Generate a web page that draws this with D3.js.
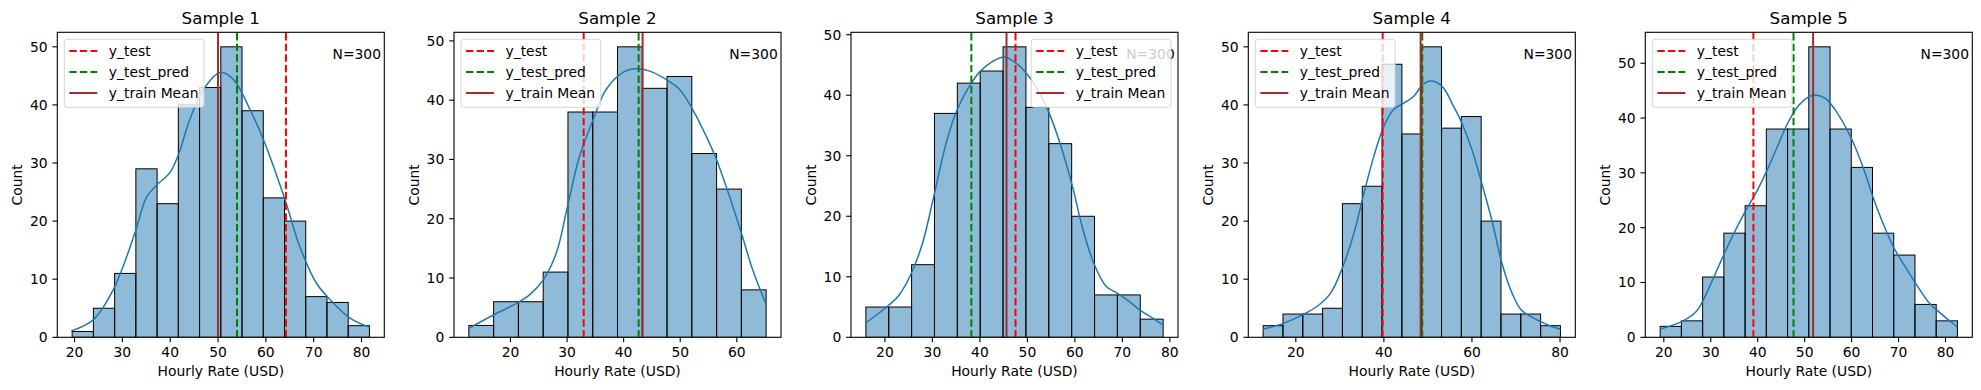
<!DOCTYPE html>
<html>
<head>
<meta charset="utf-8">
<script src="https://cdn.jsdelivr.net/npm/d3@7"></script>
<style>
  html, body { margin: 0; padding: 0; background: #fff; }
  svg { display: block; font-family: "DejaVu Sans", sans-serif; }
</style>
</head>
<body>
<svg id="chart" width="1981" height="390"></svg>
<script>
// ---------------- DATA ----------------
const titles = ["Sample 1", "Sample 2", "Sample 3", "Sample 4", "Sample 5"];
const nLabels = ["N=300", "N=300", "N=300", "N=300", "N=300"];
const legendLabels = ["y_test", "y_test_pred", "y_train Mean"];
const xLabel = "Hourly Rate (USD)";
const yLabel = "Count";

const binStarts = [19.5, 12.65, 15.99, 12.59, 19.22];
const binEnds   = [81.66, 65.18, 78.58, 80.09, 82.54];

const counts1 = [1, 5, 11, 29, 23, 40, 43, 50, 39, 24, 20, 7, 6, 2];
const counts2 = [2, 6, 6, 11, 38, 38, 49, 42, 44, 31, 25, 8];
const counts3 = [5, 5, 12, 37, 42, 44, 48, 38, 32, 20, 7, 7, 3];
const counts4 = [2, 4, 4, 5, 23, 26, 47, 35, 50, 36, 38, 20, 4, 4, 2];
const counts5 = [2, 3, 11, 19, 24, 38, 38, 53, 38, 31, 19, 15, 6, 3];

const yTest      = [64.2, 32.94, 47.5, 39.73, 39.08];
const yTestPred  = [53.97, 42.65, 38.2, 48.72, 47.63];
const yTrainMean = [50.0, 43.35, 45.6, 48.35, 51.8];

const kdeX1 = [19.3, 23.9, 28.1, 32.6, 35.1, 37.3, 39.9, 41.7, 44.1, 46.9, 50.4, 53.2, 56.7, 59.5, 64.0, 67.1, 70.6, 74.1, 77.6, 81.7];
const kdeY1 = [1.1, 3.0, 8.2, 17.9, 24.2, 26.3, 28.3, 31.4, 37.5, 42.6, 45.6, 44.4, 39.2, 34.0, 23.7, 15.6, 9.3, 5.9, 3.3, 1.7];
const kdeX2 = [12.65, 17.06, 21.4, 23.4, 25.8, 28.1, 30.2, 32.2, 34.6, 36.9, 39.9, 42.2, 44.6, 47.5, 49.9, 52.2, 54.6, 56.4, 58.7, 60.8, 62.8, 65.2];
const kdeY2 = [1.5, 3.8, 5.9, 7.2, 9.7, 14.2, 22.6, 30.5, 36.7, 41.8, 44.7, 45.3, 44.9, 43.5, 41.8, 38.4, 33.9, 30.0, 23.8, 17.6, 11.4, 5.5];
const kdeX3 = [15.85, 20.8, 23.0, 25.4, 27.9, 30.3, 32.9, 35.2, 37.8, 40.0, 42.7, 45.2, 47.6, 49.7, 52.2, 54.6, 57.1, 59.5, 61.7, 64.0, 66.6, 68.9, 71.5, 73.7, 76.5, 78.6];
const kdeY3 = [2.3, 5.3, 7.0, 10.3, 15.5, 23.3, 32.1, 37.6, 41.5, 43.9, 45.6, 46.3, 45.3, 43.7, 40.9, 37.0, 31.5, 24.9, 17.8, 12.2, 8.4, 7.3, 5.9, 4.5, 3.1, 2.0];
const kdeX4 = [12.6, 17.2, 21.6, 24.8, 27.9, 30.7, 33.2, 35.3, 37.7, 40.0, 42.2, 44.5, 46.8, 48.6, 50.5, 53.2, 55.8, 57.7, 60.0, 62.2, 64.5, 66.8, 69.1, 71.2, 74.0, 75.6, 77.7, 80.1];
const kdeY4 = [1.4, 2.4, 3.9, 5.3, 7.6, 12.2, 17.9, 24.3, 31.1, 36.3, 39.2, 40.3, 41.5, 43.3, 44.1, 43.2, 39.8, 36.9, 32.3, 26.6, 20.2, 12.8, 7.6, 4.7, 3.3, 2.7, 2.0, 1.4];
const kdeX5 = [19.2, 23.9, 26.9, 28.4, 30.4, 32.9, 35.3, 37.5, 39.6, 42.0, 44.2, 46.4, 48.8, 50.9, 52.3, 54.4, 56.5, 60.1, 62.9, 64.5, 66.4, 68.9, 71.4, 73.6, 76.3, 78.1, 80.6, 82.5];
const kdeY5 = [1.5, 2.9, 4.7, 6.8, 10.5, 15.3, 19.6, 23.2, 26.3, 30.5, 34.8, 39.1, 42.4, 43.9, 44.2, 43.6, 41.5, 36.0, 29.9, 25.7, 21.4, 16.5, 12.9, 9.9, 6.5, 5.0, 3.2, 1.9];

const xTicks1 = [20, 30, 40, 50, 60, 70, 80];
const xTicks2 = [20, 30, 40, 50, 60];
const xTicks3 = [20, 30, 40, 50, 60, 70, 80];
const xTicks4 = [20, 40, 60, 80];
const xTicks5 = [20, 30, 40, 50, 60, 70, 80];
const yTicks  = [0, 10, 20, 30, 40, 50];
const legendLoc = ["upper left", "upper left", "upper right", "upper left", "upper left"];

const countsAll = [counts1, counts2, counts3, counts4, counts5];
const kdeXAll = [kdeX1, kdeX2, kdeX3, kdeX4, kdeX5];
const kdeYAll = [kdeY1, kdeY2, kdeY3, kdeY4, kdeY5];
const xTicksAll = [xTicks1, xTicks2, xTicks3, xTicks4, xTicks5];

// ---------------- LAYOUT ----------------
const axLefts = [57.3, 454.0, 851.0, 1248.3, 1645.3];
const axW = 327, axTop = 32.3, axBottom = 337.3;
const FS = 13.89, TFS = 16.67;
const tickLen = 4.86, tickPad = 4.86;
const lineColors = ["#ff0000", "#008000", "#a52a2a"];
const lineDash = ["7.4,3.2", "7.4,3.2", null];
const vlineW = 2;

const svg = d3.select("#chart");

titles.forEach((title, p) => {
  const left = axLefts[p], right = left + axW;
  const counts = countsAll[p];
  const n = counts.length;
  const bw = (binEnds[p] - binStarts[p]) / n;
  const edges = d3.range(n + 1).map(i => binStarts[p] + i * bw);
  const span = binEnds[p] - binStarts[p];
  const x = d3.scaleLinear()
    .domain([binStarts[p] - 0.05 * span, binEnds[p] + 0.05 * span])
    .range([left, right]);
  const ymax = d3.max(counts) * 1.05;
  const y = d3.scaleLinear().domain([0, ymax]).range([axBottom, axTop]);

  const g = svg.append("g");
  const clipId = "clip" + p;
  svg.append("clipPath").attr("id", clipId)
    .append("rect").attr("x", left).attr("y", axTop).attr("width", axW).attr("height", axBottom - axTop);

  const plot = g.append("g").attr("clip-path", `url(#${clipId})`);

  // bars
  plot.selectAll("rect.bar").data(counts).enter().append("rect")
    .attr("class", "bar")
    .attr("x", (d, i) => x(edges[i]))
    .attr("width", (d, i) => x(edges[i + 1]) - x(edges[i]))
    .attr("y", d => y(d))
    .attr("height", d => y(0) - y(d))
    .attr("fill", "#1f77b4").attr("fill-opacity", 0.5)
    .attr("stroke", "#000").attr("stroke-width", 1);

  // KDE
  const pts = kdeXAll[p].map((v, i) => [v, kdeYAll[p][i]]);
  plot.append("path")
    .attr("d", d3.line().x(d => x(d[0])).y(d => y(d[1])).curve(d3.curveCatmullRom.alpha(0.5))(pts))
    .attr("fill", "none").attr("stroke", "#1f77b4").attr("stroke-width", 1.5);

  // vertical lines
  const vals = [yTest[p], yTestPred[p], yTrainMean[p]];
  vals.forEach((v, k) => {
    const ln = plot.append("line")
      .attr("x1", x(v)).attr("x2", x(v))
      .attr("y1", axBottom).attr("y2", axTop)
      .attr("stroke", lineColors[k]).attr("stroke-width", vlineW);
    if (lineDash[k]) ln.attr("stroke-dasharray", lineDash[k]);
  });

  // axes ticks
  const xt = g.append("g");
  xTicksAll[p].forEach(t => {
    xt.append("line").attr("x1", x(t)).attr("x2", x(t))
      .attr("y1", axBottom).attr("y2", axBottom + tickLen)
      .attr("stroke", "#000").attr("stroke-width", 1.1);
    xt.append("text").attr("x", x(t)).attr("y", 357)
      .attr("text-anchor", "middle").attr("font-size", FS).attr("fill", "#000").text(t);
  });
  const yt = g.append("g");
  yTicks.filter(t => t <= ymax).forEach(t => {
    yt.append("line").attr("x1", left - tickLen).attr("x2", left)
      .attr("y1", y(t)).attr("y2", y(t))
      .attr("stroke", "#000").attr("stroke-width", 1.1);
    yt.append("text").attr("x", left - tickLen - tickPad).attr("y", y(t) + 5)
      .attr("text-anchor", "end").attr("font-size", FS).attr("fill", "#000").text(t);
  });

  // spines
  g.append("rect").attr("x", left).attr("y", axTop).attr("width", axW).attr("height", axBottom - axTop)
    .attr("fill", "none").attr("stroke", "#000").attr("stroke-width", 1.1);

  // labels
  g.append("text").attr("x", (left + right) / 2).attr("y", 23.5)
    .attr("text-anchor", "middle").attr("font-size", TFS).attr("fill", "#000").text(title);
  g.append("text").attr("x", (left + right) / 2).attr("y", 376)
    .attr("text-anchor", "middle").attr("font-size", FS).attr("fill", "#000").text(xLabel);
  g.append("text")
    .attr("transform", `translate(${left - 35.5},${(axTop + axBottom) / 2}) rotate(-90)`)
    .attr("text-anchor", "middle").attr("font-size", FS).attr("fill", "#000").text(yLabel);

  // N text
  g.append("text").attr("x", left + 0.99 * axW).attr("y", 59)
    .attr("text-anchor", "end").attr("font-size", FS).attr("fill", "#000").text(nLabels[p]);

  // legend
  const lg = g.append("g");
  const box = lg.append("rect");
  let maxW = 0;
  const tmp = legendLabels.map((lab, k) => {
    const t = lg.append("text").attr("font-size", FS).attr("fill", "#000").text(lab);
    maxW = Math.max(maxW, t.node().getComputedTextLength());
    return t;
  });
  const boxW = 44.5 + maxW + 5.6, boxH = 68;
  const bx = legendLoc[p] === "upper left" ? left + 7 : right - 7 - boxW;
  const by = axTop + 7;
  box.attr("x", bx).attr("y", by).attr("width", boxW).attr("height", boxH)
    .attr("rx", 2.8).attr("ry", 2.8)
    .attr("fill", "#fff").attr("fill-opacity", 0.8)
    .attr("stroke", "#cccccc").attr("stroke-opacity", 0.8).attr("stroke-width", 1);
  legendLabels.forEach((lab, k) => {
    const cy = by + 11.7 + 21 * k;
    const ln = lg.append("line").attr("x1", bx + 5).attr("x2", bx + 33)
      .attr("y1", cy).attr("y2", cy)
      .attr("stroke", lineColors[k]).attr("stroke-width", vlineW);
    if (lineDash[k]) ln.attr("stroke-dasharray", lineDash[k]);
    tmp[k].attr("x", bx + 44.5).attr("y", cy + 5).raise();
  });
});
</script>
</body>
</html>
